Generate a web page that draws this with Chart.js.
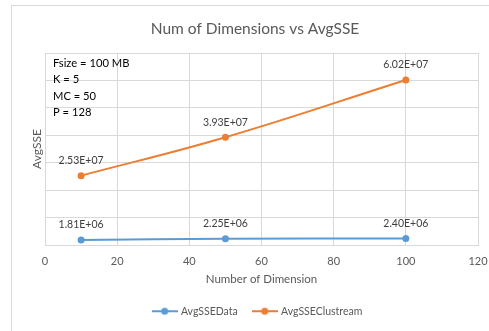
<!DOCTYPE html>
<html>
<head>
<meta charset="utf-8">
<script src="https://cdn.jsdelivr.net/npm/chart.js@4.4.1/dist/chart.umd.min.js"></script>
<style>
  html, body { margin: 0; padding: 0; background: #fff; }
  body { width: 489px; height: 331px; position: relative; overflow: hidden; }
  #frame { position: absolute; left: 11px; top: 5px; width: 500px; height: 360px; border: 1px solid #d9d9d9; box-sizing: border-box; }
  #wrap { position: absolute; left: 0; top: 0; width: 489px; height: 331px; }
</style>
</head>
<body>
<div id="frame"></div>
<div id="wrap"><canvas id="chart" width="489" height="331"></canvas></div>
<script>
// Number of dimensions tested
const dimensions = [10, 50, 100];
// Average SSE per run
const avgSSEData = [1.81e6, 2.25e6, 2.40e6];
const avgSSEClustream = [2.53e7, 3.93e7, 6.02e7];
// Run parameters shown in the plot corner
const paramLines = ['Fsize = 100 MB', 'K = 5', 'MC = 50', 'P = 128'];

const FONT = 'Lato, "Open Sans", sans-serif';
const BLUE = '#5b9bd5';
const ORANGE = '#ed7d31';
// Horizontal centre of the chart frame (title and legend are centred on it)
const FRAME_TITLE_CENTER = 255;
const FRAME_LEGEND_CENTER = 258;

function toPoints(ys) { return dimensions.map((x, i) => ({ x: x, y: ys[i] })); }

function sci(v) {
  const [m, e] = v.toExponential(2).split('e');
  const sign = e[0] === '-' ? '-' : '+';
  const digits = e.replace(/^[+-]/, '').padStart(2, '0');
  return m + 'E' + sign + digits;
}

function legendMarker(color) {
  const c = document.createElement('canvas');
  c.width = 26; c.height = 10;
  const g = c.getContext('2d');
  g.strokeStyle = color; g.lineWidth = 2;
  g.beginPath(); g.moveTo(0, 5); g.lineTo(26, 5); g.stroke();
  g.fillStyle = color;
  g.beginPath(); g.arc(13, 5, 3.5, 0, Math.PI * 2); g.fill();
  return c;
}

// Value labels above each point
const valueLabels = {
  id: 'valueLabels',
  afterDatasetsDraw(chart) {
    const ctx = chart.ctx;
    ctx.save();
    ctx.font = '10.5px ' + FONT;
    ctx.fillStyle = '#404040';
    ctx.textAlign = 'center';
    ctx.textBaseline = 'middle';
    chart.data.datasets.forEach((ds, di) => {
      chart.getDatasetMeta(di).data.forEach((pt, i) => {
        ctx.fillText(sci(ds.data[i].y), pt.x, pt.y - 15);
      });
    });
    ctx.restore();
  }
};

// Parameter text block in the top-left of the plot
const paramText = {
  id: 'paramText',
  afterDraw(chart) {
    const ctx = chart.ctx;
    const a = chart.chartArea;
    ctx.save();
    ctx.font = '11.2px ' + FONT;
    ctx.fillStyle = '#000000';
    ctx.textAlign = 'left';
    ctx.textBaseline = 'middle';
    paramLines.forEach((t, i) => ctx.fillText(t, a.left + 8, a.top + 10 + i * 16.5));
    ctx.restore();
  }
};

// Fixed legend height, and title/legend centred on the frame
const boxPlacement = {
  id: 'boxPlacement',
  beforeUpdate(chart) {
    const lg = chart.legend;
    if (lg && !lg._fixed) {
      const fit = lg.fit;
      lg.fit = function () { fit.call(this); this.height = 41; };
      lg._fixed = true;
    }
  },
  afterLayout(chart) {
    const shift = (box, c) => {
      if (!box) return;
      const d = c - (box.left + box.right) / 2;
      box.left += d; box.right += d;
    };
    shift(chart.titleBlock, FRAME_TITLE_CENTER);
    shift(chart.legend, FRAME_LEGEND_CENTER);
  }
};

new Chart(document.getElementById('chart'), {
  type: 'line',
  data: {
    datasets: [
      { label: 'AvgSSEData', data: toPoints(avgSSEData), borderColor: BLUE, backgroundColor: BLUE,
        borderWidth: 2, pointRadius: 3.5, pointBackgroundColor: BLUE, pointBorderWidth: 0, tension: 0.4, fill: false },
      { label: 'AvgSSEClustream', data: toPoints(avgSSEClustream), borderColor: ORANGE, backgroundColor: ORANGE,
        borderWidth: 2, pointRadius: 3.5, pointBackgroundColor: ORANGE, pointBorderWidth: 0, tension: 0.4, fill: false }
    ]
  },
  options: {
    responsive: false,
    animation: false,
    devicePixelRatio: 1,
    layout: { padding: { left: 0, right: 11, top: 0, bottom: 0 } },
    plugins: {
      title: {
        display: true,
        text: 'Num of Dimensions vs AvgSSE',
        color: '#595959',
        font: { family: FONT, size: 15.5, weight: 'normal' },
        padding: { top: 19.5, bottom: 15 }
      },
      legend: {
        position: 'bottom',
        labels: {
          color: '#595959',
          font: { family: FONT, size: 10.5 },
          usePointStyle: true,
          pointStyleWidth: 22,
          padding: 16,
          generateLabels(chart) {
            return chart.data.datasets.map((ds, i) => ({
              text: ds.label,
              pointStyle: legendMarker(ds.borderColor),
              fillStyle: ds.borderColor,
              strokeStyle: ds.borderColor,
              lineWidth: 0,
              fontColor: '#595959',
              hidden: false,
              datasetIndex: i
            }));
          }
        }
      },
      tooltip: { enabled: false }
    },
    scales: {
      x: {
        type: 'linear',
        min: 0, max: 120,
        ticks: { stepSize: 20, color: '#595959', font: { family: FONT, size: 11 }, padding: 10 },
        grid: { color: '#d9d9d9', drawTicks: false },
        border: { color: '#d9d9d9' },
        title: { display: true, text: 'Number of Dimension', color: '#595959',
                 font: { family: FONT, size: 11.5 }, padding: { top: 0, bottom: 4 } },
        afterFit(scale) { scale.height = 45; scale.paddingRight = 10; scale.paddingLeft = 0; }
      },
      y: {
        min: 0, max: 7e7,
        ticks: { display: false, stepSize: 1e7 },
        grid: { color: '#d9d9d9', drawTicks: false },
        border: { color: '#d9d9d9' },
        title: { display: true, text: 'AvgSSE', color: '#595959',
                 font: { family: FONT, size: 12 }, padding: { top: 30, bottom: 0 } },
        afterFit(scale) { scale.width = 45; }
      }
    }
  },
  plugins: [valueLabels, paramText, boxPlacement]
});
</script>
</body>
</html>
